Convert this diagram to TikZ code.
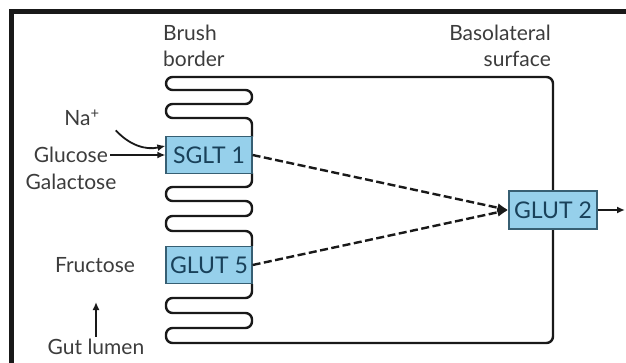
\documentclass[tikz,border=0pt]{standalone}
\usepackage{fontspec}
\setmainfont{Lato}
\usetikzlibrary{arrows.meta, positioning}
\definecolor{CellInk}{RGB}{25,25,25}
\definecolor{LabelGray}{RGB}{60,60,60}
\definecolor{BoxBlue}{RGB}{150,208,235}
\definecolor{BoxEdge}{RGB}{55,95,115}
\definecolor{BoxText}{RGB}{25,65,90}
\tikzset{
  carrier/.style={
    rectangle, draw=BoxEdge, fill=BoxBlue, line width=1.2pt,
    minimum width=86pt, minimum height=37pt, inner sep=0pt,
    font=\fontsize{23}{27}\selectfont, text=BoxText
  },
  lbl/.style={font=\fontsize{21}{26.5}\selectfont, text=LabelGray, inner sep=2pt},
  membrane/.style={draw=CellInk, line width=2.4pt, rounded corners=6.5pt, line join=round},
  arr/.style={-{Latex[length=8pt,width=7pt]}, draw=CellInk, line width=1.8pt},
  darr/.style={-{Latex[length=11pt,width=9pt]}, draw=CellInk, line width=2.4pt,
    dash pattern=on 8pt off 3.5pt},
  frame/.style={draw=CellInk, line width=5pt}
}

\begin{document}
\begin{tikzpicture}[x=1pt, y=-1pt]
  \useasboundingbox (0,0) rectangle (626,363);

  % Frame
  \draw[frame] (626,12) -- (11,12) -- (11,363);

  % Cell outline with brush border folds
  \draw[membrane] (252,137) -- (252,118) -- (166,118) -- (166,104) -- (252,104)
    -- (252,90) -- (166,90) -- (166,77) -- (553,77) -- (553,343) -- (166,343)
    -- (166,328) -- (252,328) -- (252,313) -- (166,313) -- (166,298)
    -- (252,298) -- (252,284);
  \draw[membrane] (252,173) -- (252,187) -- (166,187) -- (166,201) -- (252,201)
    -- (252,216) -- (166,216) -- (166,231) -- (252,231) -- (252,246);

  % Transporters
  \node[carrier] (sglt) at (209,155) {SGLT 1};
  \node[carrier] (glut5) at (209,265) {GLUT 5};
  \node[carrier, minimum width=88pt, minimum height=38pt] (glut2) at (553,210) {GLUT 2};

  % Labels
  \node[lbl, align=left, anchor=west] (brush) at (161,46) {Brush\\border};
  \node[lbl, align=right, anchor=east] (baso) at (553,46) {Basolateral\\surface};
  \node[lbl] (na) at (82,118) {Na\textsuperscript{+}};
  \node[lbl, anchor=east] (glc) at (110,155) {Glucose};
  \node[lbl] (gal) at (71,182) {Galactose};
  \node[lbl] (fru) at (95,265) {Fructose};
  \node[lbl] (lumen) at (96,347) {Gut lumen};
  \coordinate (exit) at (625,210);
  \coordinate (lumtip) at (96,302);

  % Arrows
  \draw[arr] ([xshift=14pt,yshift=-2pt]na.south east) to[bend right=30]
    ([yshift=-10pt]sglt.north west);
  \draw[arr] (glc) -- (sglt);
  \draw[darr] (sglt.east) -- (glut2.west);
  \draw[darr] (glut5.east) -- (glut2.west);
  \draw[arr] (glut2) -- (exit);
  \draw[arr] (lumen) -- (lumtip);
\end{tikzpicture}
\end{document}
